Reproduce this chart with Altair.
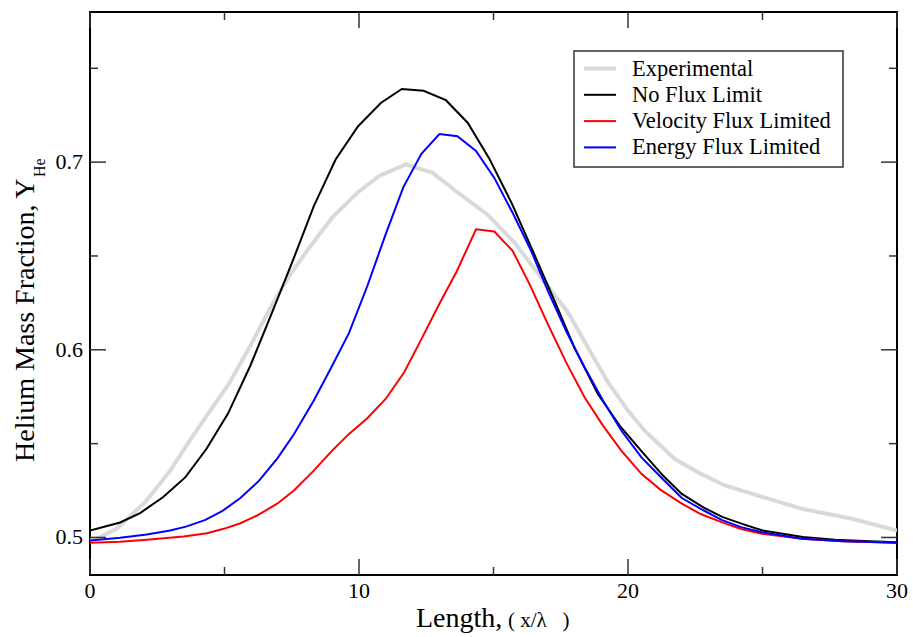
import altair as alt
import pandas as pd

# ---- data ----
series_names = ["Experimental", "No Flux Limit", "Velocity Flux Limited", "Energy Flux Limited"]
series_colors = ["#d9d9d9", "#000000", "#ff0000", "#0000ff"]
series_widths = [4, 2, 2, 2]

exp_x = [0, 0.37, 0.99, 2.05, 2.98, 3.79, 4.47, 5.16, 5.96, 6.71, 7.45, 8.2, 9.0, 9.94, 10.75,
         11.74, 12.74, 13.6, 14.78, 15.78, 16.77, 17.77, 18.51, 19.26, 20.0, 20.62, 21.74,
         22.7, 23.6, 24.84, 26.46, 28.33, 30]
exp_y = [0.4985, 0.5002, 0.5046, 0.5188, 0.5356, 0.5534, 0.5676, 0.5818, 0.6021, 0.6225,
         0.6403, 0.6553, 0.6704, 0.6837, 0.6926, 0.6988, 0.6943, 0.6846, 0.672, 0.6571,
         0.6385, 0.6199, 0.6012, 0.5826, 0.5676, 0.5569, 0.5418, 0.534, 0.5277, 0.5223,
         0.5153, 0.51, 0.5037]

nfl_x = [0, 1.12, 1.86, 2.71, 3.54, 4.32, 5.13, 5.96, 6.77, 7.58, 8.32, 9.13, 9.96, 10.81,
         11.59, 12.4, 13.23, 14.04, 14.84, 15.68, 16.46, 17.27, 18.01, 18.88, 19.69, 20.5,
         21.3, 22.0, 22.8, 23.5, 24.3, 25.0, 26.5, 27.7, 29.0, 30]
nfl_y = [0.5037, 0.508, 0.513, 0.5214, 0.532, 0.547, 0.566, 0.5915, 0.620, 0.649, 0.6766,
         0.7014, 0.719, 0.7315, 0.739, 0.738, 0.733, 0.721, 0.702, 0.678, 0.6527, 0.626,
         0.601, 0.5764, 0.5596, 0.546, 0.533, 0.5232, 0.516, 0.511, 0.507, 0.5037, 0.5002,
         0.4988, 0.498, 0.4975]

vfl_x = [0, 1.12, 2.11, 3.48, 4.35, 4.97, 5.59, 6.21, 6.96, 7.58, 8.32, 9.0, 9.63, 10.31,
         10.99, 11.68, 12.32, 12.98, 13.64, 14.35, 15.03, 15.71, 16.34, 17.02, 17.7, 18.39,
         19.07, 19.75, 20.5, 21.2, 22.0, 22.7, 23.48, 24.2, 24.97, 26.46, 28.0, 30]
vfl_y = [0.4972, 0.4977, 0.4988, 0.5005, 0.5023, 0.5046, 0.5076, 0.5117, 0.518, 0.525,
         0.5356, 0.5463, 0.5552, 0.5635, 0.5738, 0.588, 0.6057, 0.6243, 0.642, 0.6642,
         0.663, 0.6527, 0.635, 0.6137, 0.5933, 0.5746, 0.5596, 0.5463, 0.5339, 0.5255,
         0.518, 0.5125, 0.5082, 0.5045, 0.502, 0.4993, 0.498, 0.4972]

efl_x = [0, 1.12, 2.11, 2.98, 3.6, 4.29, 4.91, 5.59, 6.27, 6.96, 7.58, 8.32, 8.95, 9.63,
         10.31, 10.99, 11.65, 12.32, 12.99, 13.66, 14.35, 15.03, 15.71, 16.4, 17.02, 17.7,
         18.39, 19.07, 19.75, 20.5, 21.3, 22.0, 22.8, 23.48, 24.2, 24.97, 26.46, 28.0, 30]
efl_y = [0.4984, 0.4998, 0.5016, 0.5037, 0.5059, 0.5094, 0.514, 0.521, 0.530, 0.542, 0.555,
         0.573, 0.590, 0.609, 0.634, 0.6615, 0.6867, 0.7044, 0.715, 0.7138, 0.706, 0.6916,
         0.673, 0.6527, 0.6314, 0.610, 0.5906, 0.573, 0.557, 0.5427, 0.531, 0.521, 0.5145,
         0.5094, 0.5055, 0.5028, 0.4993, 0.498, 0.4972]

x_major = [0, 10, 20, 30]
x_major_labels = ["0", "10", "20", "30"]
x_minor = [5, 15, 25]
y_major = [0.5, 0.6, 0.7]
y_major_labels = ["0.5", "0.6", "0.7"]
y_minor = [0.55, 0.65, 0.75]

# ---- build tables ----
frames = []
for i, (name, xs, ys) in enumerate(zip(series_names,
                                        [exp_x, nfl_x, vfl_x, efl_x],
                                        [exp_y, nfl_y, vfl_y, efl_y])):
    frames.append(pd.DataFrame({"x": xs, "y": ys, "series": name, "order": i}))
df = pd.concat(frames, ignore_index=True)
legend_df = pd.DataFrame({"series": series_names, "row": list(range(len(series_names)))})

W, H = 807, 563
FONT = "Liberation Serif"
MAJ, MIN = 16, 8
TICK_COLOR = "#333333"

xscale = alt.Scale(domain=[0, 30], nice=False, zero=False)
yscale = alt.Scale(domain=[0.48, 0.78], nice=False, zero=False)
cscale = alt.Scale(domain=series_names, range=series_colors)
wscale = alt.Scale(type="ordinal", domain=series_names, range=series_widths)

lines = alt.Chart(df).mark_line(interpolate="linear", clip=True).encode(
    x=alt.X("x:Q", scale=xscale, axis=None),
    y=alt.Y("y:Q", scale=yscale, axis=None),
    color=alt.Color("series:N", scale=cscale, legend=None),
    strokeWidth=alt.StrokeWidth("series:N", scale=wscale, legend=None),
    order=alt.Order("order:Q"),
)

def xticks(vals, length):
    d = pd.DataFrame({"x": vals})
    bottom = alt.Chart(d).mark_rule(color=TICK_COLOR, strokeWidth=1.5).encode(
        x=alt.X("x:Q", scale=xscale), y=alt.value(H), y2=alt.value(H - length))
    top = alt.Chart(d).mark_rule(color=TICK_COLOR, strokeWidth=1.5).encode(
        x=alt.X("x:Q", scale=xscale), y=alt.value(0), y2=alt.value(length))
    return [bottom, top]

def yticks(vals, length):
    d = pd.DataFrame({"y": vals})
    left = alt.Chart(d).mark_rule(color=TICK_COLOR, strokeWidth=1.5).encode(
        y=alt.Y("y:Q", scale=yscale), x=alt.value(0), x2=alt.value(length))
    right = alt.Chart(d).mark_rule(color=TICK_COLOR, strokeWidth=1.5).encode(
        y=alt.Y("y:Q", scale=yscale), x=alt.value(W), x2=alt.value(W - length))
    return [left, right]

ticks = xticks(x_major, MAJ) + xticks(x_minor, MIN) + yticks(y_major, MAJ) + yticks(y_minor, MIN)

# tick labels (serif, through the same scales)
x_labels = alt.Chart(pd.DataFrame({"x": x_major, "t": x_major_labels})).mark_text(
    font=FONT, fontSize=22, color="black", align="center", baseline="alphabetic").encode(
    x=alt.X("x:Q", scale=xscale), y=alt.value(H + 23), text="t:N")
y_labels = alt.Chart(pd.DataFrame({"y": y_major, "t": y_major_labels})).mark_text(
    font=FONT, fontSize=22, color="black", align="right", baseline="middle").encode(
    y=alt.Y("y:Q", scale=yscale), x=alt.value(-7), text="t:N")

# legend box
LX0, LX1, LY0, LY1 = 484, 753, 39, 155
ROW0, ROWSTEP = 56.5, 26.3
legend_box = alt.Chart(pd.DataFrame({"a": [1]})).mark_rect(
    fill="white", stroke=TICK_COLOR, strokeWidth=1.5).encode(
    x=alt.value(LX0), x2=alt.value(LX1), y=alt.value(LY0), y2=alt.value(LY1))
legend_base = alt.Chart(legend_df).transform_calculate(
    ly=f"{ROW0} + datum.row * {ROWSTEP}")
legend_sym = legend_base.mark_rule().encode(
    x=alt.value(494), x2=alt.value(526),
    y=alt.Y("ly:Q", scale=None),
    color=alt.Color("series:N", scale=cscale, legend=None),
    strokeWidth=alt.StrokeWidth("series:N", scale=wscale, legend=None),
)
legend_txt = legend_base.mark_text(font=FONT, fontSize=22.5, color="black", align="left",
                                   baseline="middle").encode(
    x=alt.value(542), y=alt.Y("ly:Q", scale=None), text="series:N")

# axis titles
title_df = pd.DataFrame({"a": [1]})
x_title_main = alt.Chart(title_df).mark_text(font=FONT, fontSize=28, align="left",
                                             baseline="alphabetic", color="black").encode(
    x=alt.value(326), y=alt.value(615), text=alt.value("Length,"))
x_title_unit = alt.Chart(title_df).mark_text(font=FONT, fontSize=21, align="left",
                                             baseline="alphabetic", color="black").encode(
    x=alt.value(418), y=alt.value(615), text=alt.value("( x/λ\u00a0\u00a0\u00a0)"))
y_title_main = alt.Chart(title_df).mark_text(font=FONT, fontSize=28, align="left", angle=270,
                                             baseline="alphabetic", color="black").encode(
    x=alt.value(-56), y=alt.value(450), text=alt.value("Helium Mass Fraction, Y"))
y_title_sub = alt.Chart(title_df).mark_text(font=FONT, fontSize=16, align="left", angle=270,
                                            baseline="alphabetic", color="black").encode(
    x=alt.value(-45), y=alt.value(165), text=alt.value("He"))

chart = alt.layer(
    lines, *ticks, x_labels, y_labels, legend_box, legend_sym, legend_txt,
    x_title_main, x_title_unit, y_title_main, y_title_sub
).properties(
    width=W, height=H,
    autosize=alt.AutoSizeParams(type="none"),
    padding={"left": 90, "top": 12, "right": 16, "bottom": 62},
    background="white",
).configure_view(stroke="black", strokeWidth=2)

chart.save("out.html", embed_options={"renderer": "svg", "actions": False})
